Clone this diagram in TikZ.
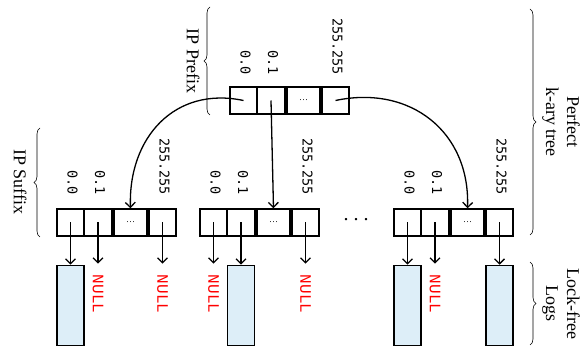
\documentclass[tikz,border=0pt]{standalone}
\usepackage{fontspec}
\setmainfont{Liberation Serif}
\newfontfamily\addrfont{DejaVu Sans Mono}
\newfontfamily\nilfont{Liberation Mono}
\usetikzlibrary{positioning,arrows.meta,decorations.pathreplacing}
\definecolor{logblue}{RGB}{221,238,248}
\definecolor{nullred}{RGB}{255,0,0}

\begin{document}
\begin{tikzpicture}[
    x=1pt, y=-1pt,
    cell/.style={draw, line width=1.5pt, minimum height=27pt, inner sep=0pt},
    logbox/.style={draw, line width=1.5pt, fill=logblue, minimum width=27pt, minimum height=80pt, inner sep=0pt},
    addr/.style={font=\addrfont\fontsize{13.5}{16}\selectfont, rotate=-90, anchor=east, inner sep=0pt},
    nullval/.style={font=\nilfont\fontsize{16}{18}\selectfont, text=nullred, rotate=-90, anchor=west, inner sep=0pt},
    ptr/.style={-{Straight Barb[length=5pt,width=10pt]}, line width=1.3pt},
    note/.style={font=\fontsize{18}{21}\selectfont, rotate=-90, align=center},
    span/.style={decorate, decoration={brace, amplitude=6pt}, line width=0.6pt},
    cdots/.style={font=\fontsize{9}{10}\selectfont},
]
    \useasboundingbox (0,0) rectangle (582,347);

    % prefix level: one k-ary node
    \foreach \i/\off/\w in {1/13.5/27, 2/41/28, 3/73.5/33, 4/105.5/27}
        \node[cell, minimum width=\w pt] (p\i) at (230+\off, 100.5) {};
    \node[cdots] at (p3) {\ldots};
    \foreach \i/\txt in {1/0.0, 2/0.1, 4/255.255}
        \node[addr] at ([xshift=2pt, yshift=11pt]p\i.north) {\txt};

    % suffix level: three of the child nodes
    \foreach \g/\gx in {1/57, 2/200, 3/394} {
        \foreach \i/\off/\w in {1/13.5/27, 2/41/28, 3/73.5/33, 4/105.5/27}
            \node[cell, minimum width=\w pt] (s\g-\i) at (\gx+\off, 222.5) {};
        \node[cdots] at (s\g-3) {\ldots};
        \foreach \i/\txt in {1/0.0, 2/0.1, 4/255.255}
            \node[addr] at ([xshift=2pt, yshift=13pt]s\g-\i.north) {\txt};
    }
    \node[font=\fontsize{20}{22}\selectfont] (gap) at (356,220) {.\hspace{5pt}.\hspace{5pt}.};

    % leaves that hold a log
    \foreach \g/\i in {1/1, 2/2, 3/1, 3/4} {
        \node[logbox, below=28pt of s\g-\i] (l\g-\i) {};
        \draw[ptr] (s\g-\i.center) -- (l\g-\i);
    }
    % empty leaves
    \foreach \g/\i in {1/2, 1/4, 2/1, 2/4, 3/2} {
        \node[nullval] (n\g-\i) at ([yshift=-38pt]s\g-\i.south) {NULL};
        \draw[ptr, shorten >=11pt] (s\g-\i.center) -- (n\g-\i);
    }

    % prefix -> suffix pointers
    \draw[ptr] (p1.center) to[out=168, in=92, looseness=1.15] (s1-3.north);
    \draw[ptr] (p2.center) -- (s2-3.north);
    \draw[ptr] (p4.center) to[out=12, in=88, looseness=1.15] (s3-3.north);

    % braces and their texts
    \draw[span] (210,115) -- (210,7);
    \draw[span] (40,237) -- (40,128);
    \draw[span] (530,9) -- (530,235);
    \draw[span] (530,262) -- (530,345);
    \node[note] (prefix) at (193,61) {IP Prefix};
    \node[note] (suffix) at (20,182) {IP Suffix};
    \node[note] (tree) at (561,122) {Perfect\\k-ary tree};
    \node[note] (logs) at (561,304) {Lock-free\\Logs};
\end{tikzpicture}
\end{document}
